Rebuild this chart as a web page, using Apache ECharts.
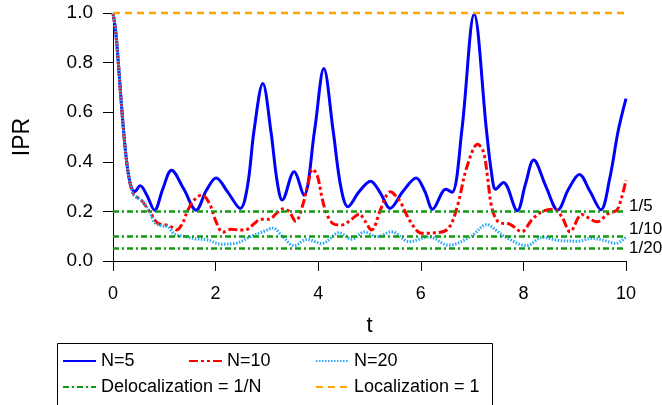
<!DOCTYPE html>
<html>
<head>
<meta charset="utf-8">
<script src="https://cdn.jsdelivr.net/npm/echarts@6/dist/echarts.min.js"></script>
<style>
  html, body { margin: 0; padding: 0; background: #ffffff; }
  #chart { width: 662px; height: 405px; }
</style>
</head>
<body>
<div id="chart"></div>
<script>
// IPR(t) for three chain lengths
const tN5 = [0, 0.05, 0.10, 0.15, 0.20, 0.25, 0.30, 0.36, 0.42, 0.53, 0.66, 0.81, 0.97, 1.14, 1.38, 1.62, 1.82, 2.01, 2.23, 2.48, 2.62, 2.75, 2.92, 3.08, 3.20, 3.30, 3.53, 3.72, 3.93, 4.11, 4.29, 4.44, 4.58, 4.80, 5.02, 5.21, 5.40, 5.65, 5.91, 6.08, 6.23, 6.49, 6.61, 6.80, 7.04, 7.28, 7.38, 7.46, 7.61, 7.88, 8.04, 8.20, 8.44, 8.67, 8.88, 9.09, 9.30, 9.51, 9.68, 9.85, 10.0];
const iprN5 = [1.00, 0.93, 0.81, 0.67, 0.54, 0.43, 0.35, 0.295, 0.28, 0.303, 0.265, 0.205, 0.29, 0.366, 0.29, 0.205, 0.285, 0.335, 0.28, 0.212, 0.30, 0.527, 0.716, 0.52, 0.32, 0.246, 0.36, 0.265, 0.527, 0.776, 0.527, 0.30, 0.219, 0.28, 0.322, 0.275, 0.212, 0.28, 0.335, 0.28, 0.209, 0.289, 0.277, 0.527, 0.995, 0.527, 0.353, 0.289, 0.317, 0.203, 0.31, 0.407, 0.30, 0.205, 0.29, 0.349, 0.28, 0.207, 0.33, 0.527, 0.655];

const tN10 = [0, 0.05, 0.10, 0.15, 0.20, 0.25, 0.30, 0.36, 0.42, 0.55, 0.66, 0.76, 0.87, 1.03, 1.12, 1.24, 1.35, 1.46, 1.60, 1.73, 1.88, 2.01, 2.14, 2.30, 2.47, 2.62, 2.75, 2.88, 3.04, 3.20, 3.30, 3.43, 3.56, 3.69, 3.80, 3.89, 3.98, 4.08, 4.15, 4.28, 4.45, 4.60, 4.72, 4.80, 4.90, 5.04, 5.21, 5.32, 5.41, 5.50, 5.60, 5.80, 6.02, 6.32, 6.54, 6.71, 6.90, 7.11, 7.22, 7.30, 7.38, 7.51, 7.74, 7.97, 8.16, 8.36, 8.59, 8.75, 8.91, 9.14, 9.30, 9.43, 9.66, 9.82, 9.92, 10.0];
const iprN10 = [1.00, 0.93, 0.81, 0.67, 0.54, 0.43, 0.35, 0.29, 0.265, 0.246, 0.215, 0.185, 0.152, 0.145, 0.14, 0.125, 0.15, 0.205, 0.25, 0.266, 0.232, 0.158, 0.116, 0.128, 0.125, 0.128, 0.15, 0.168, 0.168, 0.195, 0.21, 0.20, 0.16, 0.22, 0.31, 0.37, 0.346, 0.25, 0.199, 0.152, 0.145, 0.16, 0.18, 0.19, 0.165, 0.125, 0.205, 0.26, 0.279, 0.265, 0.239, 0.158, 0.112, 0.114, 0.132, 0.219, 0.38, 0.471, 0.44, 0.34, 0.22, 0.158, 0.148, 0.118, 0.165, 0.199, 0.209, 0.178, 0.118, 0.188, 0.17, 0.158, 0.192, 0.205, 0.26, 0.326];

const tN20 = [0, 0.05, 0.10, 0.15, 0.20, 0.25, 0.30, 0.36, 0.42, 0.55, 0.64, 0.72, 0.81, 0.94, 1.07, 1.20, 1.39, 1.59, 1.85, 2.10, 2.40, 2.70, 2.95, 3.12, 3.30, 3.53, 3.78, 4.07, 4.41, 4.65, 4.90, 5.15, 5.43, 5.78, 6.16, 6.54, 6.97, 7.29, 7.46, 7.64, 8.06, 8.37, 8.68, 9.07, 9.33, 9.56, 9.80, 10.0];
const iprN20 = [1.00, 0.93, 0.81, 0.67, 0.54, 0.43, 0.35, 0.29, 0.262, 0.246, 0.225, 0.195, 0.155, 0.142, 0.138, 0.108, 0.10, 0.09, 0.085, 0.068, 0.072, 0.10, 0.12, 0.133, 0.10, 0.062, 0.087, 0.071, 0.114, 0.088, 0.117, 0.098, 0.118, 0.078, 0.097, 0.064, 0.098, 0.147, 0.125, 0.098, 0.062, 0.095, 0.083, 0.08, 0.091, 0.084, 0.071, 0.097];

// Reference levels
const delocLevels = [0.2, 0.1, 0.05];
const delocLabels = ['1/5', '1/10', '1/20'];
const delocLabelLift = [5, 7, 0];
const locLevel = 1;
const tRange = [0, 10];

const FONT = '"Liberation Sans", Arial, sans-serif';
const pairs = (ts, vs) => ts.map((t, i) => [t, vs[i]]);

const chart = echarts.init(document.getElementById('chart'), null, { renderer: 'canvas' });

const greenStyle = { color: '#129a12', width: 2.5, type: [6, 3, 2, 3] };

// legend swatches: line only, no marker
const legendBase = {
  orient: 'vertical',
  top: 351,
  itemWidth: 33,
  itemHeight: 14,
  itemGap: 6,
  padding: 0,
  itemStyle: { opacity: 0, borderWidth: 0 },
  textStyle: { fontSize: 18, fontFamily: FONT, color: '#000', lineHeight: 20 }
};

chart.setOption({
  animation: false,
  backgroundColor: '#ffffff',
  grid: { left: 113, top: 13, width: 513, height: 248, containLabel: false },
  xAxis: {
    type: 'value', min: 0, max: 10, interval: 2, offset: 4,
    name: 't', nameLocation: 'middle', nameGap: 50,
    nameTextStyle: { fontSize: 22, fontFamily: FONT, color: '#000' },
    axisLine: { show: true, lineStyle: { color: '#000', width: 1 } },
    axisTick: { show: true, length: 10, lineStyle: { color: '#000', width: 1 } },
    axisLabel: { fontSize: 18, fontFamily: FONT, color: '#000', margin: 20 },
    splitLine: { show: false }
  },
  yAxis: {
    type: 'value', min: 0, max: 1, interval: 0.2, offset: 3,
    name: 'IPR', nameLocation: 'middle', nameGap: 76, nameRotate: 90,
    nameTextStyle: { fontSize: 23, fontFamily: FONT, color: '#000' },
    axisLine: { show: true, lineStyle: { color: '#000', width: 1 } },
    axisTick: { show: true, length: 10, lineStyle: { color: '#000', width: 1 } },
    axisLabel: { fontSize: 19, fontFamily: FONT, color: '#000', margin: 17,
      formatter: v => v.toFixed(1) },
    splitLine: { show: false }
  },
  legend: [
    Object.assign({}, legendBase, { left: 62, data: ['N=5', 'Delocalization = 1/N'] }),
    Object.assign({}, legendBase, { left: 188, data: ['N=10'] }),
    Object.assign({}, legendBase, { left: 315, data: ['N=20', 'Localization = 1'] })
  ],
  graphic: [{
    type: 'rect', left: 55, top: 341, silent: true,
    shape: { width: 435, height: 62 },
    style: { fill: 'none', stroke: '#000', lineWidth: 1 }
  }],
  series: [
    {
      name: 'N=5', type: 'line', data: pairs(tN5, iprN5),
      smooth: 0.35, symbol: 'none', clip: false,
      lineStyle: { color: '#0000ff', width: 3 }, itemStyle: { color: '#0000ff' }
    },
    {
      name: 'N=10', type: 'line', data: pairs(tN10, iprN10),
      smooth: 0.35, symbol: 'none', clip: false,
      lineStyle: { color: '#ff0000', width: 3, type: [9, 3, 3, 3, 3, 3] }, itemStyle: { color: '#ff0000' }
    },
    {
      name: 'N=20', type: 'line', data: pairs(tN20, iprN20),
      smooth: 0.35, symbol: 'none', clip: false,
      lineStyle: { color: '#2aa8f5', width: 3, type: [1.5, 1.5] }, itemStyle: { color: '#2aa8f5' }
    },
    {
      name: 'Delocalization = 1/N', type: 'line', data: [],
      symbol: 'none', lineStyle: greenStyle, itemStyle: { color: greenStyle.color },
      markLine: {
        silent: true, symbol: 'none', animation: false,
        lineStyle: greenStyle,
        data: delocLevels.map((lvl, i) => ({
          yAxis: lvl,
          label: {
            show: true, position: 'end', distance: 3, formatter: delocLabels[i],
            fontSize: 17, fontFamily: FONT, color: '#000',
            offset: [0, -delocLabelLift[i]]
          }
        }))
      }
    },
    {
      name: 'Localization = 1', type: 'line',
      data: tRange.map(t => [t, locLevel]),
      symbol: 'none', clip: false,
      lineStyle: { color: '#ffa500', width: 2.5, type: [7, 5] }, itemStyle: { color: '#ffa500' }
    }
  ]
});
</script>
</body>
</html>
